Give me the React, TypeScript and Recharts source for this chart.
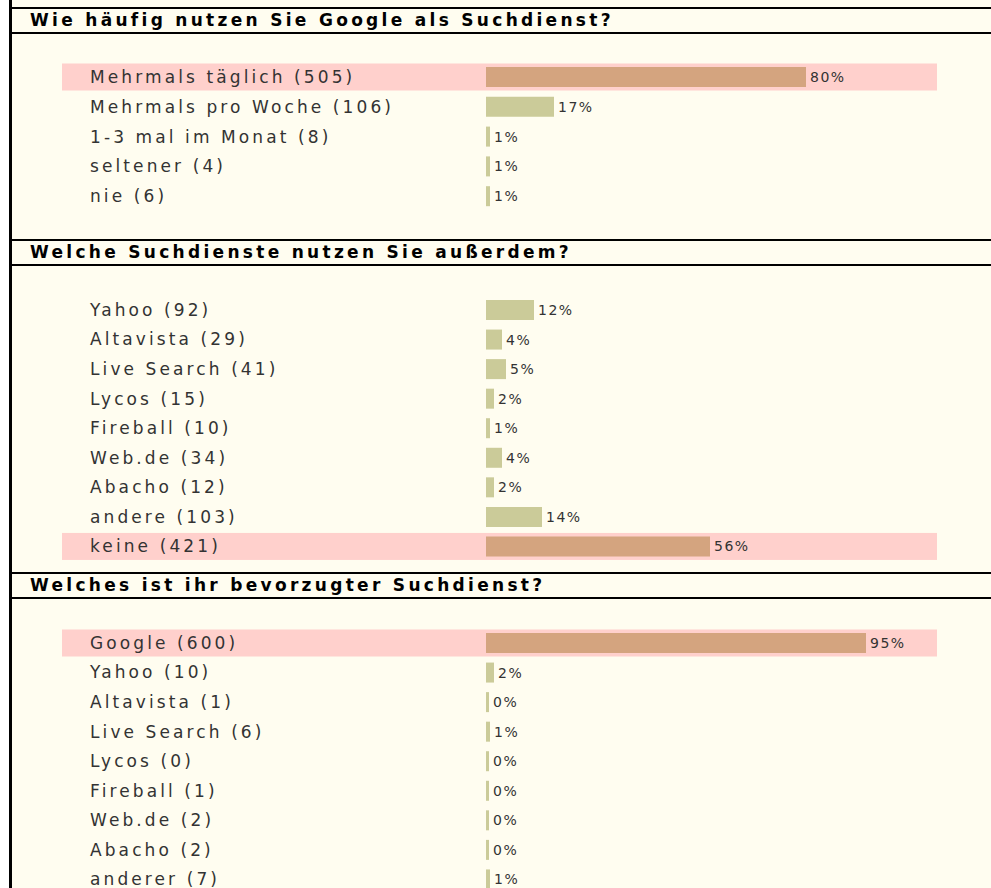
import React from 'react';
import { BarChart, Bar, XAxis, YAxis, Cell, LabelList } from 'recharts';

// survey results, percentages as printed next to each bar
const freqTitle = 'Wie häufig nutzen Sie Google als Suchdienst?';
const freqLabels = [
  'Mehrmals täglich (505)',
  'Mehrmals pro Woche (106)',
  '1-3 mal im Monat (8)',
  'seltener (4)',
  'nie (6)',
];
const freqValues = [80, 17, 1, 1, 1];

const otherTitle = 'Welche Suchdienste nutzen Sie außerdem?';
const otherLabels = [
  'Yahoo (92)',
  'Altavista (29)',
  'Live Search (41)',
  'Lycos (15)',
  'Fireball (10)',
  'Web.de (34)',
  'Abacho (12)',
  'andere (103)',
  'keine (421)',
];
const otherValues = [12, 4, 5, 2, 1, 4, 2, 14, 56];

const prefTitle = 'Welches ist ihr bevorzugter Suchdienst?';
const prefLabels = [
  'Google (600)',
  'Yahoo (10)',
  'Altavista (1)',
  'Live Search (6)',
  'Lycos (0)',
  'Fireball (1)',
  'Web.de (2)',
  'Abacho (2)',
  'anderer (7)',
];
const prefValues = [95, 2, 0, 1, 0, 0, 0, 0, 1];

const BG = '#FFFDF0';
const BAND = '#FFD0CC';
const BAR_TOP = '#D4A47F';
const BAR = '#CBCB99';
const FONT = '"DejaVu Sans", Verdana, sans-serif';

const LabelTick = (props: any) => (
  <text
    x={90}
    y={props.y}
    dy="0.36em"
    fill="#333"
    fontFamily={FONT}
    fontSize={17}
    style={{ letterSpacing: 3.1 }}
  >
    {props.payload.value}
  </text>
);

const Header = ({ title, top }: { title: string; top: number }) => (
  <div
    style={{
      position: 'absolute',
      left: 12,
      top,
      width: 961,
      height: 23,
      borderTop: '2px solid #000',
      borderBottom: '2px solid #000',
      boxSizing: 'content-box',
      fontFamily: FONT,
      fontWeight: 'bold',
      fontSize: 17,
      letterSpacing: 3.3,
      lineHeight: '23px',
      paddingLeft: 18,
      color: '#000',
      whiteSpace: 'nowrap',
    }}
  >
    {title}
  </div>
);

const Section = ({ labels, values, top, height }: { labels: string[]; values: number[]; top: number; height: number }) => {
  const data = labels.map((label, i) => ({ label, value: values[i] }));
  const best = values.indexOf(Math.max(...values));
  return (
    <div style={{ position: 'absolute', left: 0, top }}>
      <BarChart
        width={991}
        height={height}
        data={data}
        layout="vertical"
        margin={{ top: 0, right: 105, bottom: 0, left: 0 }}
      >
        <XAxis type="number" domain={[0, 100]} hide />
        <Bar
          dataKey="value"
          barSize={20}
          minPointSize={3}
          isAnimationActive={false}
          background={(p: any) =>
            p.index === best ? (
              <rect x={p.x - 424} y={p.y - 3.5} width={p.width + 475} height={p.height + 7} fill={BAND} />
            ) : (
              <g />
            )
          }
        >
          {data.map((d, i) => (
            <Cell key={d.label} fill={i === best ? BAR_TOP : BAR} />
          ))}
          <LabelList
            dataKey="value"
            position="right"
            offset={4}
            formatter={(v: any) => `${v}%`}
            fill="#333"
            fontSize={14}
            fontFamily={FONT}
            style={{ letterSpacing: 1.5, fontSize: 14 }}
          />
        </Bar>
        <YAxis
          type="category"
          dataKey="label"
          width={486}
          axisLine={false}
          tickLine={false}
          tick={<LabelTick />}
          interval={0}
        />
      </BarChart>
    </div>
  );
};

export default function App() {
  return (
    <div
      style={{
        position: 'absolute',
        left: 0,
        top: 0,
        width: 991,
        height: 888,
        overflow: 'hidden',
        background: BG,
      }}
    >
      <div style={{ position: 'absolute', left: 0, top: 0, width: 9, height: 888, background: '#fff' }} />
      <div style={{ position: 'absolute', left: 9, top: 0, width: 3, height: 888, background: '#000' }} />

      <Header title={freqTitle} top={7} />
      <Section labels={freqLabels} values={freqValues} top={62} height={149} />

      <Header title={otherTitle} top={239} />
      <Section labels={otherLabels} values={otherValues} top={295} height={266} />

      <Header title={prefTitle} top={572} />
      <Section labels={prefLabels} values={prefValues} top={628} height={266} />
    </div>
  );
}
